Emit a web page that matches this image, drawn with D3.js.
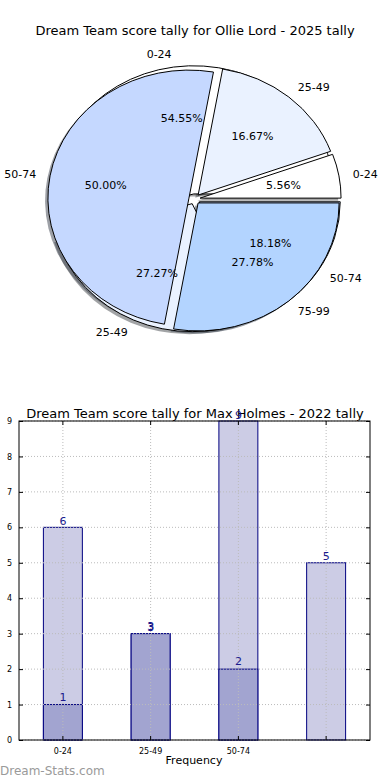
<!DOCTYPE html>
<html>
<head>
    <title>Dream Team score tally</title>
    <meta charset="utf-8" />
    <script src="https://d3js.org/d3.v7.min.js"></script>
    <style>
      body { margin:0; background:#fff; }
      text { font-family: "DejaVu Sans", sans-serif; }
    </style>
</head>

<body>
    <script type="text/javascript">
        // pie data (two overlaid tallies)
        var pieCatsA = ["0-24","25-49","50-74","75-99"],
            pieValsA = [1, 3, 9, 5];
        var pieCatsB = ["0-24","25-49","50-74"],
            pieValsB = [6, 3, 2];
        var pieColors = ["#ffffff", "#eaf2ff", "#c5d8ff", "#b3d4ff"];

        // bar data
        var barCats = ["0-24","25-49","50-74","75-99"],
            barTickLabels = ["0-24","25-49","50-74",""],
            barLight = [6, 3, 9, 5],
            barDark = [1, 3, 2];
        var yTicks = [0,1,2,3,4,5,6,7,8,9];

        var w = 390, h = 780;

        var svg = d3.select("body")
                    .append("svg")
                    .attr("width", w)
                    .attr("height", h);

        // ---------- pie ----------
        var cx = 194.5, cy = 199, rx = 141, ry = 128, explode = 0.04;

        svg.append("text")
           .attr("x", 195).attr("y", 35)
           .attr("text-anchor", "middle")
           .style("font-size", "13px")
           .text("Dream Team score tally for Ollie Lord - 2025 tally");

        // matplotlib style: start at 3 o'clock, counter-clockwise
        var pie = d3.pie().sort(null).startAngle(Math.PI/2).endAngle(Math.PI/2 - 2*Math.PI);
        var arc = d3.arc().innerRadius(0).outerRadius(1);

        var arcsB = pie(pieValsB).map(function(d,i){ d.cat = pieCatsB[i]; d.col = pieColors[i]; return d; });
        var arcsA = pie(pieValsA).map(function(d,i){ d.cat = pieCatsA[i]; d.col = pieColors[i]; return d; });
        var total = { A: d3.sum(pieValsA), B: d3.sum(pieValsB) };

        function mid(d){ return (d.startAngle + d.endAngle)/2; }
        function off(d){ var m = mid(d); return [Math.sin(m)*explode, -Math.cos(m)*explode]; }

        var pg = svg.append("g")
                    .attr("transform", "translate(" + cx + "," + cy + ") scale(" + rx + "," + ry + ")");

        var allArcs = arcsB.concat(arcsA);

        // shadows first
        pg.selectAll("path.shadow")
          .data(allArcs)
          .enter()
          .append("path")
          .attr("class", "shadow")
          .attr("d", arc)
          .attr("transform", function(d){ var o = off(d); return "translate(" + (o[0]-0.02) + "," + (o[1]+0.02) + ")"; })
          .style("fill", function(d){ var c = d3.rgb(d.col); return d3.rgb(c.r*0.3, c.g*0.3, c.b*0.3); })
          .style("fill-opacity", 0.5)
          .style("stroke", "none");

        pg.selectAll("path.wedge")
          .data(allArcs)
          .enter()
          .append("path")
          .attr("class", "wedge")
          .attr("d", arc)
          .attr("transform", function(d){ var o = off(d); return "translate(" + o[0] + "," + o[1] + ")"; })
          .style("fill", function(d){ return d.col; })
          .style("stroke", "#000")
          .style("stroke-width", 1)
          .attr("vector-effect", "non-scaling-stroke");

        function labels(arcs, tot){
            arcs.forEach(function(d){
                var m = mid(d), o = off(d);
                var ox = cx + o[0]*rx, oy = cy + o[1]*ry;
                var lx = ox + 1.1*rx*Math.sin(m), ly = oy - 1.1*ry*Math.cos(m);
                svg.append("text")
                   .attr("x", lx).attr("y", ly)
                   .attr("dy", "0.35em")
                   .attr("text-anchor", Math.sin(m) > 0 ? "start" : "end")
                   .style("font-size", "11px")
                   .text(d.cat);
                var px = ox + 0.6*rx*Math.sin(m), py = oy - 0.6*ry*Math.cos(m);
                svg.append("text")
                   .attr("x", px).attr("y", py)
                   .attr("dy", "0.35em")
                   .attr("text-anchor", "middle")
                   .style("font-size", "11px")
                   .text(d3.format(".2f")(d.value/tot*100) + "%");
            });
        }
        labels(arcsB, total.B);
        labels(arcsA, total.A);

        // ---------- bars ----------
        var margin = {top:421, right:20, bottom:40, left:19};
        var x = d3.scaleBand().domain(barCats).range([19, 370]).paddingInner(0.556).paddingOuter(0.278);
        var y = d3.scaleLinear().domain([0, 9]).range([740, 421]);

        svg.append("text")
           .attr("x", 195).attr("y", 418)
           .attr("text-anchor", "middle")
           .style("font-size", "13px")
           .text("Dream Team score tally for Max Holmes - 2022 tally");

        var grid = svg.append("g");
        grid.selectAll("line.gy")
            .data(yTicks)
            .enter().append("line")
            .attr("x1", 19).attr("x2", 370)
            .attr("y1", function(d){ return y(d); })
            .attr("y2", function(d){ return y(d); })
            .style("stroke", "#bbb").style("stroke-dasharray", "1,2");
        grid.selectAll("line.gx")
            .data(barCats)
            .enter().append("line")
            .attr("x1", function(d){ return x(d) + x.bandwidth()/2; })
            .attr("x2", function(d){ return x(d) + x.bandwidth()/2; })
            .attr("y1", 421).attr("y2", 740)
            .style("stroke", "#bbb").style("stroke-dasharray", "1,2");

        svg.selectAll("rect.light")
           .data(barLight)
           .enter().append("rect")
           .attr("x", function(d,i){ return x(barCats[i]); })
           .attr("y", function(d){ return y(d); })
           .attr("width", x.bandwidth())
           .attr("height", function(d){ return y(0) - y(d); })
           .style("fill", "#ccccE5").style("fill-opacity", 1)
           .style("stroke", "#000080").style("stroke-width", 1);

        svg.selectAll("rect.dark")
           .data(barDark)
           .enter().append("rect")
           .attr("x", function(d,i){ return x(barCats[i]); })
           .attr("y", function(d){ return y(d); })
           .attr("width", x.bandwidth())
           .attr("height", function(d){ return y(0) - y(d); })
           .style("fill", "#a2a4d0")
           .style("stroke", "#000080").style("stroke-width", 1);

        // grid on top of bars (matplotlib draws it over)
        grid.raise();

        function barLabels(vals, dy){
            svg.selectAll(null)
               .data(vals)
               .enter().append("text")
               .attr("x", function(d,i){ return x(barCats[i]) + x.bandwidth()/2; })
               .attr("y", function(d){ return y(d) - dy; })
               .attr("text-anchor", "middle")
               .style("font-size", "11px")
               .style("fill", "#1a1a8c")
               .text(function(d){ return d; });
        }
        barLabels(barLight, 2.5);
        barLabels(barDark, 4);

        // frame
        svg.append("rect")
           .attr("x", 19).attr("y", 421).attr("width", 351).attr("height", 319)
           .style("fill", "none").style("stroke", "#000").style("stroke-width", 1);

        var yAxis = d3.axisLeft(y).tickValues(yTicks).tickSize(-4).tickPadding(7);
        svg.append("g")
           .attr("transform", "translate(19,0)")
           .call(yAxis)
           .call(function(g){ g.select(".domain").remove(); g.selectAll("text").style("font-size","8px").style("font-family","DejaVu Sans"); });
        svg.append("g")
           .attr("transform", "translate(370,0)")
           .call(d3.axisRight(y).tickValues(yTicks).tickSize(-4).tickFormat(""))
           .call(function(g){ g.select(".domain").remove(); });

        var xAxis = d3.axisBottom(x).tickSize(-4).tickPadding(8).tickFormat(function(d,i){ return barTickLabels[i]; });
        svg.append("g")
           .attr("transform", "translate(0,740)")
           .call(xAxis)
           .call(function(g){ g.select(".domain").remove(); g.selectAll("text").style("font-size","8px").style("font-family","DejaVu Sans"); });
        svg.append("g")
           .attr("transform", "translate(0,421)")
           .call(d3.axisTop(x).tickSize(-4).tickFormat(""))
           .call(function(g){ g.select(".domain").remove(); });

        svg.append("text")
           .attr("x", 194).attr("y", 764)
           .attr("text-anchor", "middle")
           .style("font-size", "11px")
           .text("Frequency");

        svg.append("text")
           .attr("x", 0).attr("y", 775)
           .style("font-size", "12px")
           .style("fill", "#9a9a9a")
           .text("Dream-Stats.com");
    </script>
</body>
</html>
